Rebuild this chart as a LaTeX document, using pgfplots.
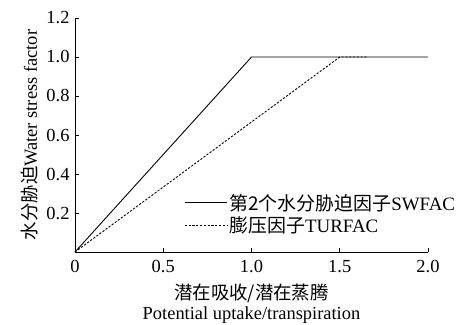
\documentclass[border=0pt]{standalone}
\usepackage{pgfplots}
\pgfplotsset{compat=1.18}
\usepackage{fontspec}
\setmainfont{Liberation Serif}
\newfontfamily\cjk{Noto Sans CJK SC}
\begin{document}
\begin{tikzpicture}[x=1bp,y=1bp]
% fixed page frame
\path[use as bounding box] (0,0) rectangle (456,324);
\begin{axis}[
  at={(75bp,72bp)}, anchor=south west,
  width=353bp, height=234bp, scale only axis,
  xmin=0, xmax=2, ymin=0, ymax=1.2,
  axis x line=bottom, axis y line=left,
  axis line style={-, line width=0.8pt},
  tick align=inside, major tick length=4bp,
  tick style={line width=0.8pt, black},
  xtick={0,0.5,1,1.5,2},
  xticklabels={0,0.5,1.0,1.5,2.0},
  ytick={0.2,0.4,0.6,0.8,1.0,1.2},
  yticklabels={0.2,0.4,0.6,0.8,1.0,1.2},
  /pgf/number format/assume math mode=true,
  ticklabel style={font=\fontsize{18.5}{20}\selectfont},
  xticklabel style={yshift=-5bp},
  yticklabel style={xshift=-2bp},
  xlabel={{\cjk 潜在吸收/潜在蒸腾}\\Potential uptake/transpiration},
  xlabel style={font=\fontsize{18.5}{20.5}\selectfont, align=center,
    at={(axis description cs:0.5,-0.222)}, anchor=center},
  ylabel={{\cjk 水分胁迫}Water stress factor},
  ylabel style={font=\fontsize{18.5}{20}\selectfont,
    at={(axis description cs:-0.128,0.5)}, anchor=center},
  legend style={at={(0.31,0.256)}, anchor=north west, draw=none, fill=none,
    font=\fontsize{19}{20}\selectfont, row sep=1bp,
    inner sep=0pt, outer sep=0pt},
  legend cell align=left,
  legend image code/.code={\draw[#1] (0bp,0bp) -- (36bp,0bp);
    \path (0bp,0bp) -- (42bp,0bp);},
  clip=false,
]
\addplot[black, line width=0.9pt] coordinates {(0,0) (1.0,1.0) (2.0,1.0)};
\addlegendentry{{\cjk 第2个水分胁迫因子}SWFAC}
\addplot[black, line width=0.9pt, dash pattern=on 2.2bp off 1.6bp] coordinates {(0,0) (1.5,1.0) (1.66,1.0)};
\addlegendentry{{\cjk 膨压因子}TURFAC}
\end{axis}
\end{tikzpicture}
\end{document}
